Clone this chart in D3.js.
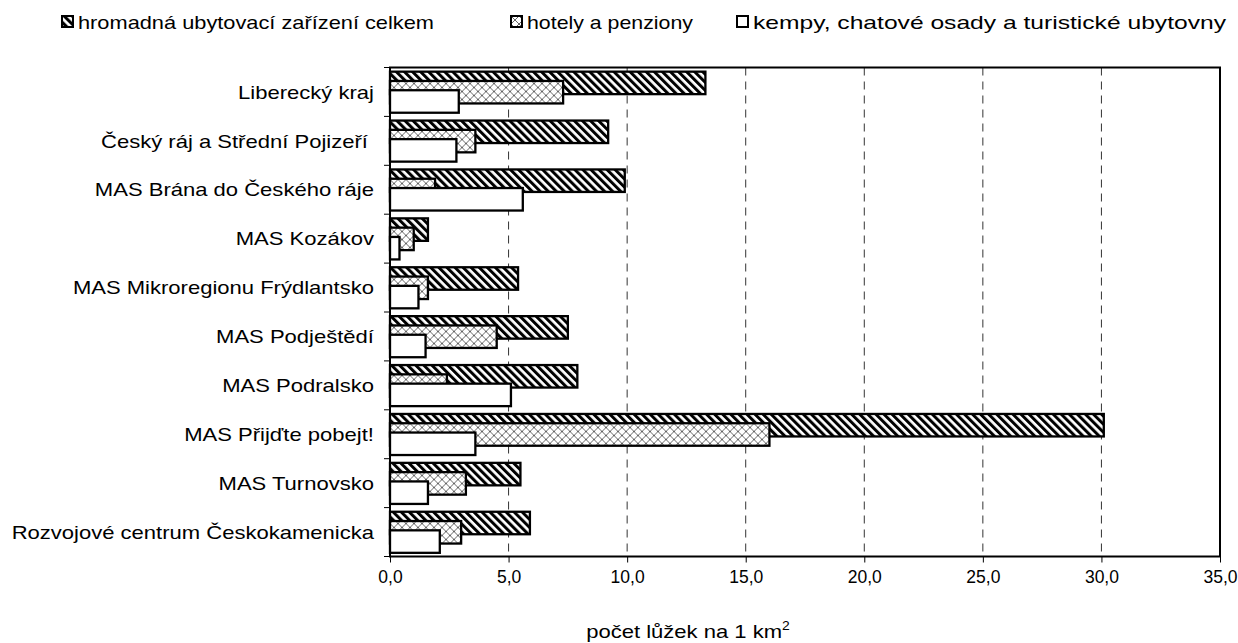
<!DOCTYPE html>
<html>
<head>
<meta charset="utf-8">
<script src="https://cdn.jsdelivr.net/npm/d3@7"></script>
<style>
  body { margin: 0; background: #fff; }
  text { font-family: "Liberation Sans", Arial, sans-serif; fill: #000; }
</style>
</head>
<body>
<div id="canvas"></div>
<script>
// data
var categories = ['Liberecký kraj', 'Český ráj a Střední Pojizeří ', 'MAS Brána do Českého ráje',
    'MAS Kozákov', 'MAS Mikroregionu Frýdlantsko', 'MAS Podještědí', 'MAS Podralsko',
    'MAS Přijďte pobejt!', 'MAS Turnovsko', 'Rozvojové centrum Českokamenicka'];
var seriesNames = ['hromadná ubytovací zařízení celkem', 'hotely a penziony', 'kempy, chatové osady a turistické ubytovny'];
var celkem = [13.3, 9.2, 9.9, 1.6, 5.4, 7.5, 7.9, 30.1, 5.5, 5.9];
var hotely = [7.3, 3.6, 1.9, 1.0, 1.6, 4.5, 2.4, 16.0, 3.2, 3.0];
var kempy  = [2.9, 2.8, 5.6, 0.4, 1.2, 1.5, 5.1, 3.6, 1.6, 2.1];
var xTicks = [0, 5, 10, 15, 20, 25, 30, 35];

var W = 1238, H = 643;
var m = {t:67.5, r:18, b:86.5, l:390};
var w = W - m.l - m.r, h = H - m.t - m.b;
var fs = '19px', stretch = 'scale(1.16,1)';

var svg = d3.select('#canvas').append('svg')
    .attr('width', W).attr('height', H);

// patterns
var defs = svg.append('defs');
var diag = defs.append('pattern')
    .attr('id', 'diag').attr('patternUnits', 'userSpaceOnUse')
    .attr('width', 5.7).attr('height', 5.7)
    .attr('patternTransform', 'rotate(-45)');
diag.append('rect').attr('width', 5.7).attr('height', 5.7).attr('fill', '#fff');
diag.append('rect').attr('width', 3).attr('height', 5.7).attr('fill', '#000');

var cross = defs.append('pattern')
    .attr('id', 'cross').attr('patternUnits', 'userSpaceOnUse')
    .attr('width', 8).attr('height', 8);
cross.append('rect').attr('width', 8).attr('height', 8).attr('fill', '#fff');
cross.append('path').attr('d', 'M0,0L8,8M8,0L0,8')
    .attr('stroke', '#666').attr('stroke-width', 1).attr('fill', 'none');

var fills = ['url(#diag)', 'url(#cross)', '#fff'];

var plot = svg.append('g')
    .attr('transform', 'translate(' + m.l + ',' + m.t + ')');

var scaleX = d3.scaleLinear().domain([0, 35]).range([0, w]);
var scaleY = d3.scaleBand().domain(categories).range([0, h]);
var bw = scaleY.bandwidth();
var barH = bw * 0.46;
var offset = d3.scaleLinear().domain([0, 2]).range([bw * 0.085, bw * 0.085 + bw * 0.38]);

// grid lines
plot.selectAll('.grid').data(xTicks.slice(1, -1)).enter()
    .append('line')
    .attr('x1', function(d){ return scaleX(d); })
    .attr('x2', function(d){ return scaleX(d); })
    .attr('y1', 0).attr('y2', h)
    .attr('stroke', '#333').attr('stroke-width', 1)
    .attr('stroke-dasharray', '8,6');

// bars: series 0 drawn first, then 1, then 2 on top
var series = [celkem, hotely, kempy];
series.forEach(function(vals, si){
    plot.append('g').selectAll('rect')
        .data(vals).enter()
        .append('rect')
        .attr('x', 0)
        .attr('y', function(d, i){ return scaleY(categories[i]) + offset(si); })
        .attr('width', function(d){ return scaleX(d); })
        .attr('height', barH)
        .attr('fill', fills[si])
        .attr('stroke', '#000')
        .attr('stroke-width', 2.3);
});

// frame
plot.append('rect')
    .attr('width', w).attr('height', h)
    .attr('fill', 'none').attr('stroke', '#000').attr('stroke-width', 2);

// x axis
var axisX = d3.axisBottom(scaleX)
    .tickValues(xTicks)
    .tickSize(6)
    .tickPadding(8)
    .tickFormat(function(d){ return d3.format('.1f')(d).replace('.', ','); });
var gx = plot.append('g')
    .attr('transform', 'translate(0,' + h + ')')
    .call(axisX);
gx.select('.domain').remove();
gx.selectAll('line').attr('stroke', '#000');
gx.selectAll('text').style('font-size', '17.5px')
    .style('font-family', '"Liberation Sans", Arial, sans-serif');

// y axis: ticks on category boundaries
var bounds = d3.range(categories.length + 1).map(function(i){ return i * bw; });
plot.selectAll('.ytick').data(bounds).enter()
    .append('line')
    .attr('x1', -6).attr('x2', 0)
    .attr('y1', function(d){ return d; }).attr('y2', function(d){ return d; })
    .attr('stroke', '#000').attr('stroke-width', 1);

plot.selectAll('.ylab').data(categories).enter()
    .append('g')
    .attr('transform', function(d){ return 'translate(-16,' + (scaleY(d) + bw / 2) + ') ' + stretch; })
    .append('text')
    .attr('dy', '0.35em')
    .attr('text-anchor', 'end')
    .style('font-size', fs)
    .style('white-space', 'pre')
    .text(function(d){ return d; });

// axis title
var title = svg.append('g')
    .attr('transform', 'translate(688,638) ' + stretch)
    .append('text')
    .attr('text-anchor', 'middle')
    .style('font-size', fs)
    .text('počet lůžek na 1 km');
title.append('tspan').attr('dy', -8).style('font-size', '12px').text('2');

// legend
var legendX = [62, 511, 737];
var legendW = [356, 166, 473];
var legend = svg.selectAll('.leg').data(seriesNames).enter()
    .append('g')
    .attr('transform', function(d, i){ return 'translate(' + legendX[i] + ',16)'; });
legend.append('rect')
    .attr('width', 11).attr('height', 11)
    .attr('fill', function(d, i){ return fills[i]; })
    .attr('stroke', '#000').attr('stroke-width', 2);
legend.append('text')
    .attr('x', 16).attr('y', 6)
    .attr('dy', '0.35em')
    .attr('textLength', function(d, i){ return legendW[i]; })
    .attr('lengthAdjust', 'spacingAndGlyphs')
    .style('font-size', fs)
    .text(function(d){ return d; });
</script>
</body>
</html>
